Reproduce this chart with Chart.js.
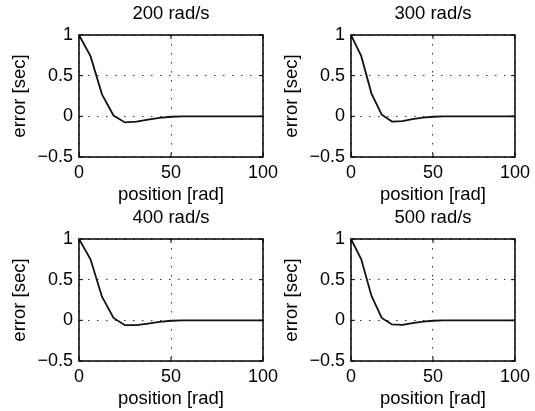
<!DOCTYPE html>
<html>
<head>
<meta charset="utf-8">
<script src="https://cdn.jsdelivr.net/npm/chart.js@4.4.2/dist/chart.umd.min.js"></script>
<style>
    html, body { margin: 0; padding: 0; background: #fff; }
    #figure { position: relative; width: 535px; height: 411px; }
    #figure canvas { position: absolute; left: 0; top: 0; }
</style>
</head>
<body>
<div id="figure">
    <canvas id="plot-200" width="535" height="411"></canvas>
    <canvas id="plot-300" width="535" height="411"></canvas>
    <canvas id="plot-400" width="535" height="411"></canvas>
    <canvas id="plot-500" width="535" height="411"></canvas>
</div>
<script>
// position [rad]
const positions = [0, 6.25, 12.5, 18.75, 25, 31.25, 37.5, 43.75, 50, 56.25, 62.5, 68.75, 75, 81.25, 87.5, 93.75, 100];

// error [sec] pour chaque vitesse
const err200 = [1, 0.74, 0.27, 0.01, -0.075, -0.065, -0.04, -0.02, -0.005, 0, 0, 0, 0, 0, 0, 0, 0];
const err300 = [1, 0.74, 0.28, 0.02, -0.065, -0.06, -0.035, -0.015, -0.005, 0, 0, 0, 0, 0, 0, 0, 0];
const err400 = [1, 0.75, 0.29, 0.03, -0.06, -0.06, -0.04, -0.02, -0.005, 0, 0, 0, 0, 0, 0, 0, 0];
const err500 = [1, 0.75, 0.30, 0.03, -0.05, -0.055, -0.035, -0.015, -0.005, 0, 0, 0, 0, 0, 0, 0, 0];

const titles = ['200 rad/s', '300 rad/s', '400 rad/s', '500 rad/s'];
const xTicks = [0, 50, 100];
const yTicks = [-0.5, 0, 0.5, 1];

const FONT = '"Liberation Sans", Arial, Helvetica, sans-serif';
const W = 535, H = 411;
const Y_AXIS_W = 79, X_AXIS_H = 50;

// zone de tracé de chaque sous-figure (pixels)
const areas = [
    { left: 79, right: 263, top: 35, bottom: 157 },
    { left: 351, right: 517, top: 35, bottom: 157 },
    { left: 79, right: 263, top: 239, bottom: 361 },
    { left: 351, right: 517, top: 239, bottom: 361 }
];

// cadre noir + petits traits de graduation vers l'intérieur
const boxPlugin = {
    id: 'matlabBox',
    afterDatasetsDraw(chart) {
        const { ctx, chartArea: a, scales: { x, y } } = chart;
        ctx.save();
        ctx.strokeStyle = '#000';
        ctx.lineWidth = 1.5;
        ctx.strokeRect(a.left, a.top, a.right - a.left, a.bottom - a.top);
        ctx.lineWidth = 1;
        ctx.beginPath();
        x.ticks.forEach(t => {
            const px = x.getPixelForValue(t.value);
            ctx.moveTo(px, a.bottom); ctx.lineTo(px, a.bottom - 4);
            ctx.moveTo(px, a.top); ctx.lineTo(px, a.top + 4);
        });
        y.ticks.forEach(t => {
            const py = y.getPixelForValue(t.value);
            ctx.moveTo(a.left, py); ctx.lineTo(a.left + 4, py);
            ctx.moveTo(a.right, py); ctx.lineTo(a.right - 4, py);
        });
        ctx.stroke();
        ctx.restore();
    }
};

function formatTick(v) {
    return v < 0 ? '\u2212' + Math.abs(v) : String(v);
}

function renderPlot(canvasId, title, values, area) {
    const ctx = document.getElementById(canvasId).getContext('2d');
    const grid = {
        color: 'rgba(0,0,0,0.8)',
        lineWidth: 1,
        drawTicks: false
    };
    // en v4 les pointillés de la grille passent par border.dash
    const border = { display: false, dash: [1.5, 7.5] };
    return new Chart(ctx, {
        type: 'line',
        data: {
            datasets: [{
                data: positions.map((p, i) => ({ x: p, y: values[i] })),
                borderColor: '#111',
                borderWidth: 1.8,
                pointRadius: 0,
                tension: 0,
                fill: false
            }]
        },
        options: {
            responsive: false,
            animation: false,
            events: [],
            layout: {
                padding: {
                    left: area.left - Y_AXIS_W,
                    right: W - area.right,
                    top: area.top - 35,
                    bottom: H - area.bottom - X_AXIS_H
                }
            },
            plugins: {
                legend: { display: false },
                tooltip: { enabled: false },
                title: {
                    display: true,
                    text: title,
                    fullSize: false,
                    color: '#000',
                    font: { family: FONT, size: 18.5, weight: 'normal', lineHeight: 1.2 },
                    padding: { top: 3, bottom: 9.8 }
                }
            },
            scales: {
                x: {
                    type: 'linear',
                    min: 0,
                    max: 100,
                    afterBuildTicks: s => { s.ticks = xTicks.map(v => ({ value: v })); },
                    afterFit: s => { s.height = X_AXIS_H; },
                    border,
                    grid,
                    ticks: {
                        color: '#000',
                        font: { family: FONT, size: 18 },
                        padding: 5,
                        maxRotation: 0,
                        autoSkip: false,
                        callback: formatTick
                    },
                    title: {
                        display: true,
                        text: 'position [rad]',
                        color: '#000',
                        font: { family: FONT, size: 18.5, lineHeight: 1.2 },
                        padding: { top: 0, bottom: 0.5 }
                    }
                },
                y: {
                    type: 'linear',
                    min: -0.5,
                    max: 1,
                    afterBuildTicks: s => { s.ticks = yTicks.map(v => ({ value: v })); },
                    afterFit: s => { s.width = Y_AXIS_W; },
                    border,
                    grid,
                    ticks: {
                        color: '#000',
                        font: { family: FONT, size: 18 },
                        padding: 6,
                        callback: formatTick
                    },
                    title: {
                        display: true,
                        text: 'error [sec]',
                        color: '#000',
                        font: { family: FONT, size: 18.5, lineHeight: 1.2 },
                        padding: { top: 9, bottom: 0 }
                    }
                }
            }
        },
        plugins: [boxPlugin]
    });
}

const series = [err200, err300, err400, err500];
['plot-200', 'plot-300', 'plot-400', 'plot-500'].forEach((id, i) => {
    renderPlot(id, titles[i], series[i], areas[i]);
});
</script>
</body>
</html>
